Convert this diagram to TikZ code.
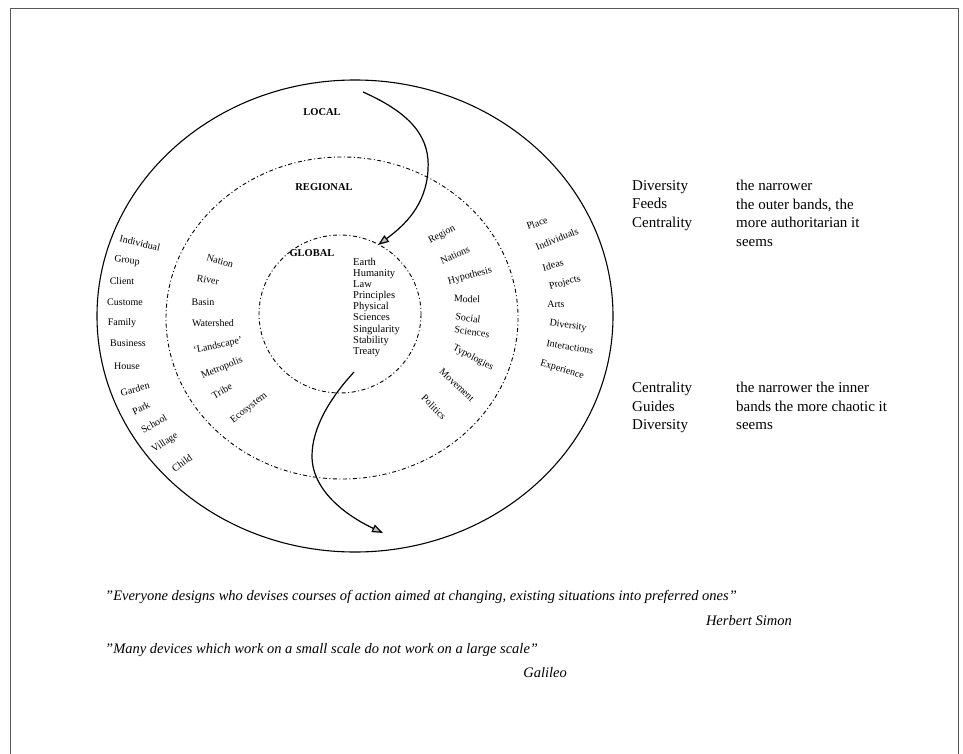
\documentclass[tikz,border=0pt]{standalone}
\usepackage{fontspec}
\setmainfont{Liberation Serif}
\usetikzlibrary{arrows.meta}

\tikzset{
  band/.style={font=\fontsize{10}{12}\selectfont, inner sep=0pt},
  lvl/.style={font=\fontsize{10.5}{12}\selectfont\bfseries, inner sep=0pt},
  ring/.style={line width=0.9pt, dash pattern=on 4pt off 2.5pt on 1pt off 2.5pt},
  flow/.style={line width=1.2pt, -{Triangle[length=11pt, width=8pt, fill=gray!50]}},
  note/.style={font=\fontsize{15}{18.5}\selectfont, align=left, anchor=north west, inner sep=0pt},
  saying/.style={font=\fontsize{14.5}{17}\selectfont\itshape, inner sep=0pt}
}

\begin{document}
\begin{tikzpicture}[x=1pt, y=-1pt]
  \useasboundingbox (0,0) rectangle (963,754);
  % frame
  \draw[gray!70!black, line width=0.6pt] (10,770) -- (10,8) -- (958,8) -- (958,770);

  % rings
  \draw[line width=1.1pt] (355,316) ellipse [x radius=258, y radius=236];
  \draw[ring] (342,318) ellipse [x radius=176, y radius=161];
  \draw[ring] (340,314) ellipse [x radius=81, y radius=79];

  % levels
  \node[lvl] (local) at (322,112) {LOCAL};
  \node[lvl] (regional) at (324,187) {REGIONAL};
  \node[lvl] (global) at (312,253) {GLOBAL};

  % core list
  \node[anchor=north west, align=left, inner sep=0pt,
        font=\fontsize{10.5}{11.1}\selectfont] (core) at (353,258)
    {Earth\\Humanity\\Law\\Principles\\Physical\\Sciences\\Singularity\\Stability\\Treaty};

  % outer band, left
  \foreach \t/\x/\y/\a [count=\i] in {Individual/140/243/-13, Group/127/261/-8,
      Client/122/281/0, Custome/125/302/0, Family/122/323/0, Business/128/343/0,
      House/127/366/0, Garden/135/389/15, Park/141/408/26, School/154/424/30,
      Village/165/443/33, Child/182/463/35}
    \node[band, rotate=\a] (lo\i) at (\x,\y) {\t};

  % middle band, left
  \foreach \t/\x/\y/\a [count=\i] in {Nation/220/261/-15, River/208/280/-10,
      Basin/203/302/0, Watershed/213/323/0, `Landscape'/218/346/12,
      Metropolis/222/368/22, Tribe/222/391/30, Ecosystem/249/408/38}
    \node[band, rotate=\a] (lm\i) at (\x,\y) {\t};

  % middle band, right
  \foreach \t/\x/\y/\a [count=\i] in {Region/442/235/28, Nations/455/255/25,
      Hypothesis/470/276/15, Model/467/299/-3, Social/468/318/-8,
      Sciences/472/332/-8, Typologies/473/358/-28, Movement/457/385/-43,
      Politics/434/407/-45}
    \node[band, rotate=\a] (rm\i) at (\x,\y) {\t};

  % outer band, right
  \foreach \t/\x/\y/\a [count=\i] in {Place/537/223/20, Individuals/557/239/22,
      Ideas/553/265/15, Projects/565/283/15, Arts/556/304/0,
      Diversity/568/326/-8, Interactions/570/347/-10, Experience/562/370/-17}
    \node[band, rotate=\a] (ro\i) at (\x,\y) {\t};

  % flows
  \coordinate (inS) at (363,92);
  \coordinate (inE) at (378,245);
  \coordinate (outS) at (354,372);
  \coordinate (outE) at (383,533);
  \draw[flow] (inS) .. controls (415,115) and (430,140) .. (428,170)
              .. controls (426,205) and (405,225) .. (inE);
  \draw[flow] (outS) .. controls (330,398) and (312,428) .. (312,456)
              .. controls (312,490) and (345,515) .. (outE);

  % notes
  \node[note] (feedsL) at (632,180) {Diversity\\Feeds\\Centrality};
  \node[note] (feedsR) at (736,180) {the narrower\\the outer bands, the\\more authoritarian it\\seems};
  \node[note] (guidesL) at (632,382) {Centrality\\Guides\\Diversity};
  \node[note] (guidesR) at (736,382) {the narrower the inner\\bands the more chaotic it\\seems};

  % sayings
  \node[saying, anchor=west] (simon) at (105,597)
    {"Everyone designs who devises courses of action aimed at changing, existing situations into preferred ones"};
  \node[saying, anchor=east] (simonby) at (792,621) {Herbert Simon};
  \node[saying, anchor=west] (galileo) at (105,650)
    {"Many devices which work on a small scale do not work on a large scale"};
  \node[saying, anchor=east] (galileoby) at (567,673) {Galileo};
\end{tikzpicture}
\end{document}
